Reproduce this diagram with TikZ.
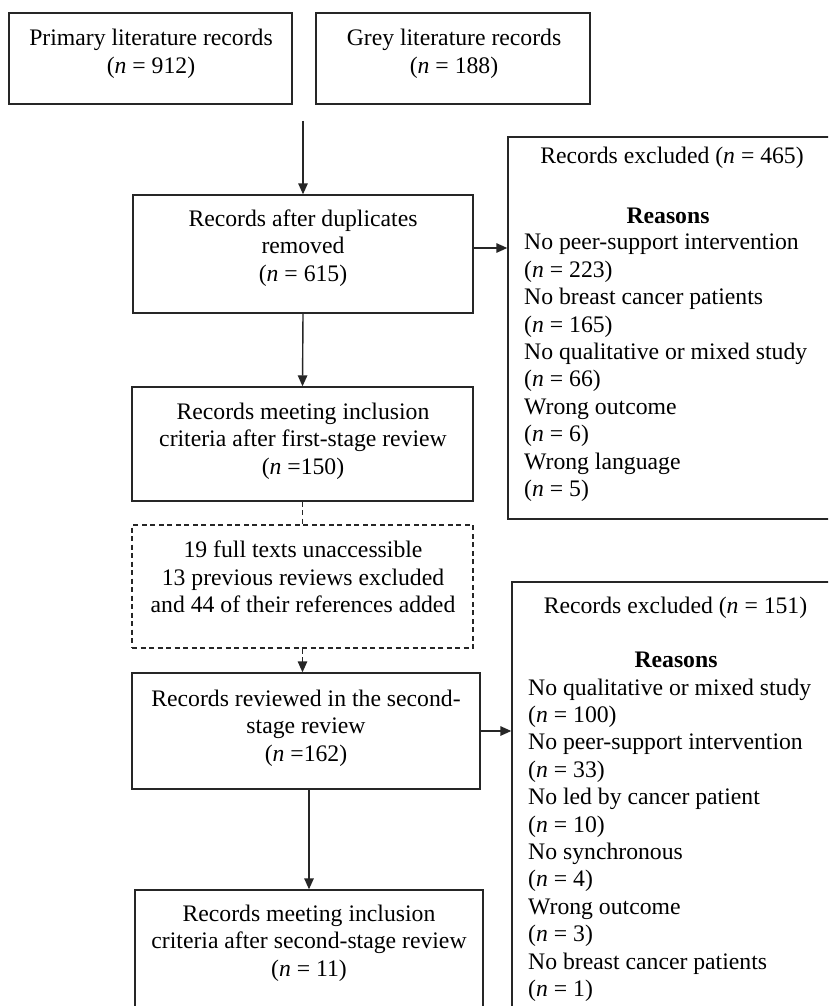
\documentclass[tikz,border=0pt]{standalone}
\usepackage{fontspec}
\setmainfont{Liberation Serif}
\usetikzlibrary{arrows.meta,calc}
\tikzset{
  box/.style={draw=black!85, line width=1.4pt, rectangle, inner sep=0pt},
  dbox/.style={box, dash pattern=on 5pt off 3.5pt},
  txt/.style={font=\fontsize{23.7}{27.4}\selectfont, align=center, inner sep=0pt},
  ltxt/.style={font=\fontsize{23.7}{27.4}\selectfont, align=left, inner sep=0pt},
  arr/.style={draw=black!85, line width=1.4pt, -{Triangle[length=11pt,width=9.5pt]}},
  darr/.style={arr, dash pattern=on 5pt off 3.5pt},
  dline/.style={draw=black!85, line width=1.4pt, dash pattern=on 5pt off 3.5pt},
}
\newcommand{\nn}{\textit{n}}
\begin{document}
\begin{tikzpicture}[x=1pt,y=-1pt]
\useasboundingbox (0,0) rectangle (828,1006);
\clip (0,0) rectangle (828,1006);
\fill[white] (0,0) rectangle (828,1006);

% boxes
\node[box, minimum width=283pt, minimum height=91pt] (A) at (150.5,58.5) {};
\node[box, minimum width=274pt, minimum height=91pt] (B) at (453,58.5) {};
\node[box, minimum width=340pt, minimum height=118pt] (C) at (303,254) {};
\node[box, minimum width=341pt, minimum height=114pt] (D) at (302.5,444) {};
\node[dbox, minimum width=341pt, minimum height=123pt] (F) at (302.5,586.5) {};
\node[box, minimum width=348pt, minimum height=116pt] (G) at (306,731) {};
\node[box, minimum width=348pt, minimum height=150pt] (I) at (309,965) {};
\node[box, minimum width=392pt, minimum height=382pt] (E) at (704,328) {};
\node[box, minimum width=388pt, minimum height=458pt] (H) at (706,811) {};

% texts
\node[txt] (At) at (151,54) {Primary literature records\\(\nn{} = 912)};
\node[txt] (Bt) at (454,54) {Grey literature records\\(\nn{} = 188)};
\node[txt] (Ct) at (303,248) {Records after duplicates\\removed\\(\nn{} = 615)};
\node[txt] (Dt) at (303,441) {Records meeting inclusion\\criteria after first-stage review\\(\nn{} =150)};
\node[txt] (Ft) at (303,577) {19 full texts unaccessible\\13 previous reviews excluded\\and 44 of their references added};
\node[txt] (Gt) at (306,728) {Records reviewed in the second-\\stage review\\(\nn{} =162)};
\node[txt] (It) at (309,943) {Records meeting inclusion\\criteria after second-stage review\\(\nn{} = 11)};

\node[txt, anchor=base] (Eh) at (672,163) {Records excluded (\nn{} = 465)};
\node[txt, anchor=base] (Er) at (668,223) {\textbf{Reasons}};
\node[ltxt, anchor=north west] (El) at (524,234) {No peer-support intervention\\(\nn{} = 223)\\No breast cancer patients\\(\nn{} = 165)\\No qualitative or mixed study\\(\nn{} = 66)\\Wrong outcome\\(\nn{} = 6)\\Wrong language\\(\nn{} = 5)};

\node[txt, anchor=base] (Hh) at (675.5,613) {Records excluded (\nn{} = 151)};
\node[txt, anchor=base] (Hr) at (676,667) {\textbf{Reasons}};
\node[ltxt, anchor=north west] (Hl) at (528,678.5) {No qualitative or mixed study\\(\nn{} = 100)\\No peer-support intervention\\(\nn{} = 33)\\No led by cancer patient\\(\nn{} = 10)\\No synchronous\\(\nn{} = 4)\\Wrong outcome\\(\nn{} = 3)\\No breast cancer patients\\(\nn{} = 1)};

% connectors
\coordinate (top) at (303,121);
\draw[arr] (top) -- (C.north);
\path ([yshift=6pt]C.east) coordinate (c1);
\draw[arr] (c1) -- (c1 -| E.west);
\draw[arr] (C.south) -- (D.north);
\draw[dline] (D.south) -- (F.north);
\draw[darr] (F.south) -- (F.south |- G.north);
\draw[arr] (G.east) -- (G.east -| H.west);
\draw[arr] (G.south -| I.north) -- (I.north);
\end{tikzpicture}
\end{document}
